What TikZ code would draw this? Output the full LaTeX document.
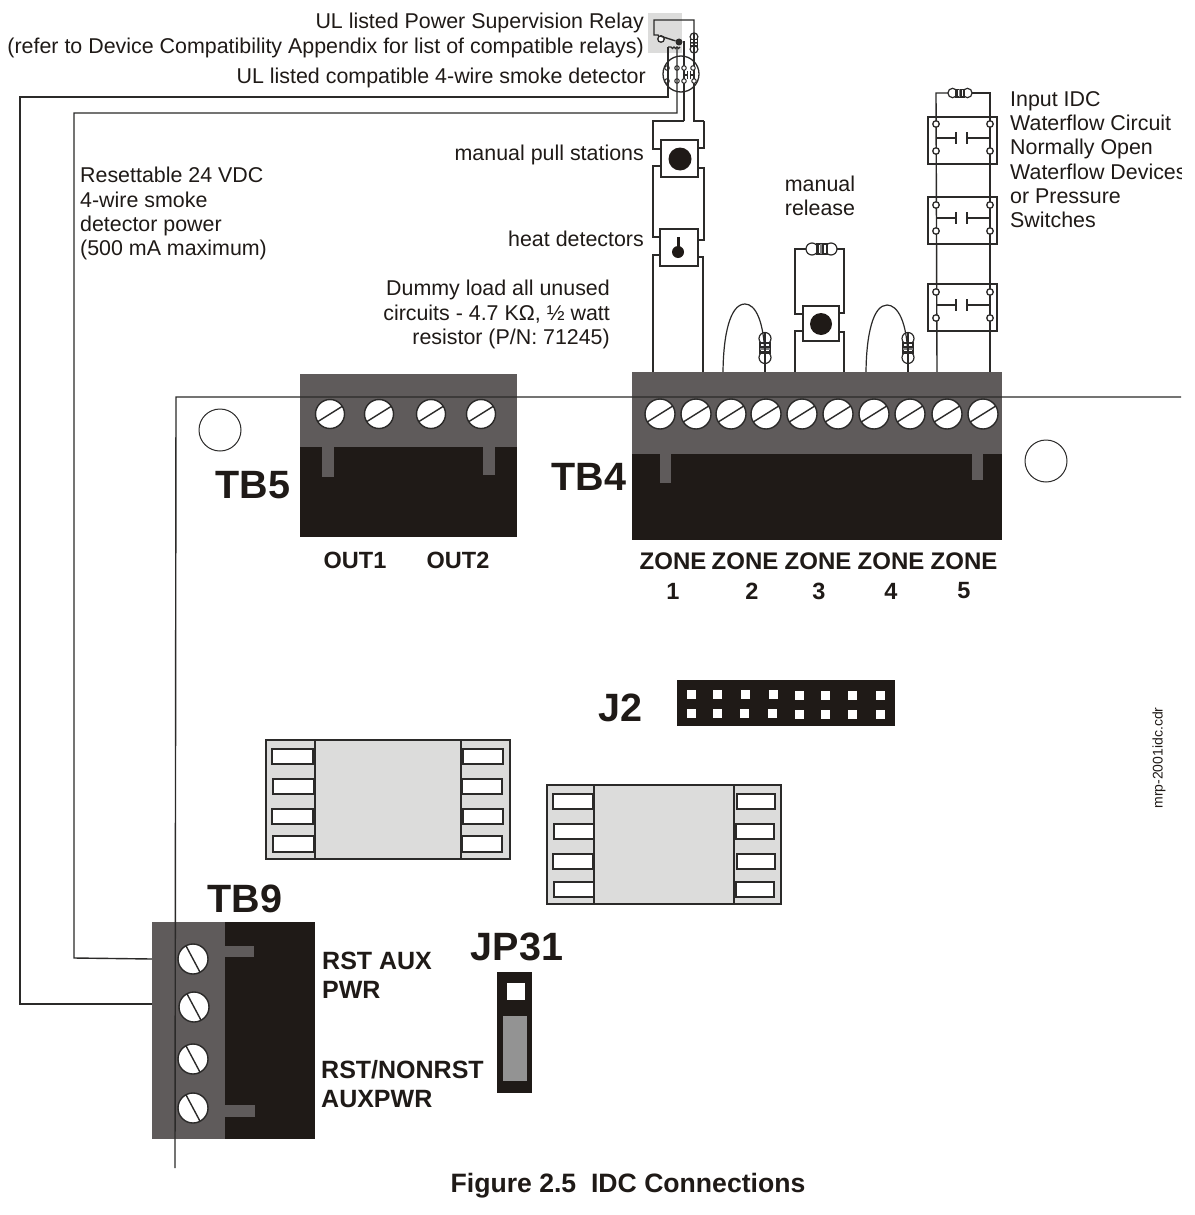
\documentclass[tikz,border=0pt]{standalone}
\usepackage{fontspec}
\setmainfont{Liberation Sans}
\definecolor{ink}{HTML}{2B2A29}
\definecolor{blockgrey}{HTML}{5F5B5B}
\definecolor{blockblack}{HTML}{1F1A17}
\definecolor{chipgrey}{HTML}{DCDCDB}
\tikzset{
  wire/.style={draw=ink,line width=1.4pt},
  label/.style={font=\fontsize{21.4}{24.3}\selectfont,text=blockblack,inner sep=0pt},
  tag/.style={font=\fontsize{25}{29}\selectfont\bfseries,text=blockblack,inner sep=0pt},
  zonetag/.style={font=\fontsize{24}{29}\selectfont\bfseries,text=blockblack,inner sep=0pt},
  outtag/.style={font=\fontsize{23.5}{28}\selectfont\bfseries,text=blockblack,inner sep=0pt},
  bigtag/.style={font=\fontsize{39.5}{44}\selectfont\bfseries,text=blockblack,inner sep=0pt},
  screw/.style={circle,draw=ink,fill=white,line width=1.4pt,minimum size=30pt,inner sep=0pt},
  screwright/.style={screw,path picture={\draw[ink,line width=1.4pt] (path picture bounding box.212) -- (path picture bounding box.32);}},
  screwdown/.style={screw,path picture={\draw[ink,line width=1.4pt] (path picture bounding box.118) -- (path picture bounding box.298);}},
  term/.style={circle,draw=ink,fill=white,line width=1.3pt,minimum size=6.5pt,inner sep=0pt},
  pin/.style={circle,draw=ink,fill=white,line width=1pt,minimum size=4.5pt,inner sep=0pt},
  devbox/.style={draw=ink,fill=white,line width=1.4pt,inner sep=0pt},
  swbox/.style={draw=ink,line width=1.4pt,inner sep=0pt,minimum width=69pt,minimum height=47pt},
  hole/.style={circle,draw=ink,fill=white,line width=1pt,minimum size=42pt,inner sep=0pt},
  pad/.style={draw=ink,fill=white,line width=1.3pt},
  sq/.style={fill=white,minimum size=9pt,inner sep=0pt},
  resistor/.pic={
    \draw[ink,line width=1.2pt,fill=white] (-9.5,0) circle (6);
    \draw[ink,line width=1.2pt,fill=white] (9.5,0) circle (6);
    \fill[white] (-6,-5) rectangle (6,5);
    \draw[ink,line width=1.2pt] (-6,-5) -- (6,-5) (-6,5) -- (6,5);
    \fill[ink] (-6,-5) rectangle (-3,5);
    \fill[gray] (-1.5,-5) rectangle (0,5);
    \fill[ink] (0,-5) rectangle (2,5);
    \fill[ink] (4,-5) rectangle (6,5);
    \coordinate (-a) at (-15.5,0);
    \coordinate (-b) at (15.5,0);
  },
}
\begin{document}
\begin{tikzpicture}[x=1pt,y=-1pt]
    \path[use as bounding box,fill=white] (0,0) rectangle (1194,1215);
    \clip (0,0) rectangle (1181,1215);

    %Relay and smoke detector
    \fill[chipgrey] (648,13) rectangle (682,53);
    \node[circle,draw=ink,line width=1.3pt,minimum size=36pt,inner sep=0pt] (det) at (681,74) {};
    \pic[rotate=90,scale=.65] (rr) at (694,43) {resistor};
    \node[term] (relayno) at (661,39) {};
    \node[circle,fill=ink,minimum size=7pt,inner sep=0pt] (relayc) at (679,42) {};
    \draw[wire] (rr-a) -- (694,20) -- (654,20) -- (654,35) -- (658,35) -- (relayno);
    \draw[wire] (660,36) -- (relayc);
    \draw[wire] (668,47) -- (671,47) arc (180:0:1.5) arc (180:0:1.5) arc (180:0:1.5);
    \coordinate (pta) at (684,121);
    \coordinate (ptb) at (704,121);
    \draw[wire] (relayc) -- (684,42) -- (pta);
    \draw[wire] (rr-b) -- (694,121) -- (ptb);
    \node[pin] (d1) at (667,68) {};
    \node[pin] (d2) at (677,68) {};
    \node[pin] (d3) at (684,68) {};
    \node[pin] (d4) at (693,68) {};
    \node[pin] (d5) at (667,81) {};
    \node[pin] (d6) at (677,81) {};
    \node[pin] (d7) at (684,81) {};
    \node[pin] (d8) at (694,81) {};
    \draw[ink,line width=1pt] (d3 |- 0,75) -- (687,75);
    \draw[ink,line width=1pt] (687,71) -- (687,79);
    \draw[ink,line width=1pt] (690,71) -- (690,79);
    \draw[ink,line width=1pt] (690,75) -- (d4 |- 0,75);

    %Manual pull station and heat detector
    \node[devbox,minimum width=37pt,minimum height=37pt] (pull) at (679.5,158.5) {};
    \node[circle,fill=blockblack,minimum size=23pt,inner sep=0pt] (pulldot) at (680,159) {};
    \node[devbox,minimum width=38pt,minimum height=37pt] (heat) at (679,247.5) {};
    \node[circle,fill=blockblack,minimum size=12pt,inner sep=0pt] (heatdot) at (678,252) {};
    \fill[blockblack] (676.5,237) rectangle (679.5,250);
    \draw[wire] (pta) -- (653,121) -- (653,149) -- (pull.west |- 0,149);
    \draw[wire] (ptb) -- (704,148) -- (pull.east |- 0,148);
    \draw[wire] (pull.west |- 0,166) -- (653,166) -- (653,237) -- (heat.west |- 0,237);
    \draw[wire] (pull.east |- 0,168) -- (704,168) -- (704,240) -- (heat.east |- 0,240);
    \draw[wire] (heat.west |- 0,255) -- (653,255) -- (653,373);
    \draw[wire] (heat.east |- 0,257) -- (703,257) -- (703,375);

    %Zone 2 and zone 4 loops
    \pic[rotate=90] (ra) at (765,348) {resistor};
    \pic[rotate=90] (rb) at (908,348) {resistor};
    \draw[ink,line width=1.2pt] (723,375) .. controls (723,335) and (730,304) .. (745,304) .. controls (755,304) and (765,320) .. (ra-a);
    \draw[ink,line width=1.2pt] (866,375) .. controls (866,335) and (873,305) .. (887,305) .. controls (897,305) and (908,320) .. (rb-a);
    \draw[wire] (ra-b) -- (765,376);
    \draw[wire] (rb-b) -- (908,376);

    %Manual release
    \pic (rm) at (821.5,249) {resistor};
    \node[devbox,minimum width=36pt,minimum height=35pt] (rel) at (821,323.5) {};
    \node[circle,fill=blockblack,minimum size=22pt,inner sep=0pt] (reldot) at (821,324) {};
    \draw[wire] (rm-a) -- (795,249) -- (795,314) -- (rel.west |- 0,314);
    \draw[wire] (rm-b) -- (844,249) -- (844,313) -- (rel.east |- 0,313);
    \draw[wire] (rel.west |- 0,331) -- (795,331) -- (795,373);
    \draw[wire] (rel.east |- 0,332) -- (844,332) -- (844,375);

    %Waterflow switches
    \node[swbox] (swa) at (962.5,140.5) {};
    \node[swbox] (swb) at (962.5,220.5) {};
    \node[swbox] (swc) at (962.5,307.5) {};
    \pic[scale=.78] (rw) at (960,93) {resistor};
    \draw[wire] (rw-a) -- (936,93) -- (937,373);
    \draw[wire] (rw-b) -- (990,93) -- (990,373);
    \node[term] (a1) at (936,124) {};
    \node[term] (a2) at (936,151) {};
    \node[term] (a3) at (990,124) {};
    \node[term] (a4) at (990,151) {};
    \node[term] (b1) at (936,205) {};
    \node[term] (b2) at (936,231) {};
    \node[term] (b3) at (990,205) {};
    \node[term] (b4) at (990,231) {};
    \node[term] (c1) at (936,292) {};
    \node[term] (c2) at (936,318) {};
    \node[term] (c3) at (990,292) {};
    \node[term] (c4) at (990,318) {};
    \draw[wire] (936,138) -- (956,138) (956,132) -- (956,144) (967,132) -- (967,144) (967,138) -- (990,138);
    \draw[wire] (936,218) -- (956,218) (956,212) -- (956,224) (967,212) -- (967,224) (967,218) -- (990,218);
    \draw[wire] (936,305) -- (956,305) (956,299) -- (956,311) (967,299) -- (967,311) (967,305) -- (990,305);

    %Long wires to TB9
    \draw[wire] (668,47) -- (668,97) -- (20,97) -- (20,1004) -- (152,1004);
    \draw[wire] (677,47) -- (677,113) -- (74,113) -- (74,958) -- (152,959);

    %TB5
    \fill[blockblack] (300,447) rectangle (517,537);
    \fill[blockgrey] (300,374) rectangle (517,447);
    \fill[blockgrey] (322,447) rectangle (334,477);
    \fill[blockgrey] (483,447) rectangle (495,475);
    \node[screwright,minimum size=29pt] (s51) at (330,414) {};
    \node[screwright,minimum size=29pt] (s52) at (379,414) {};
    \node[screwright,minimum size=29pt] (s53) at (431,414) {};
    \node[screwright,minimum size=29pt] (s54) at (481,414) {};

    %TB4
    \fill[blockblack] (632,454) rectangle (1002,540);
    \fill[blockgrey] (632,372) rectangle (1002,454);
    \fill[blockgrey] (660,454) rectangle (671,483);
    \fill[blockgrey] (972,454) rectangle (983,480);
    \node[screwright] (s41) at (660,414) {};
    \node[screwright] (s42) at (696,414) {};
    \node[screwright] (s43) at (731,414) {};
    \node[screwright] (s44) at (766,414) {};
    \node[screwright] (s45) at (802,414) {};
    \node[screwright] (s46) at (838,414) {};
    \node[screwright] (s47) at (874,414) {};
    \node[screwright] (s48) at (910,414) {};
    \node[screwright] (s49) at (947,414) {};
    \node[screwright] (s410) at (983,414) {};

    %TB9
    \fill[blockblack] (152,922) rectangle (315,1139);
    \fill[blockgrey] (152,922) rectangle (225,1139);
    \fill[blockgrey] (225,946) rectangle (254,957);
    \fill[blockgrey] (225,1105) rectangle (255,1117);
    \node[screwdown] (s91) at (193,959) {};
    \node[screwdown] (s92) at (194,1007) {};
    \node[screwdown] (s93) at (193,1059) {};
    \node[screwdown] (s94) at (193,1108) {};

    %Board edge and holes
    \draw[wire] (1181,397) -- (176,397) -- (175,1168);
    \node[hole] (h1) at (220,430) {};
    \node[hole] (h2) at (1046,461) {};

    %Chips
    \draw[ink,line width=1.3pt,fill=chipgrey] (266,740) rectangle (510,859);
    \draw[ink,line width=1.3pt,fill=chipgrey] (315,740) rectangle (461,859);
    \draw[pad] (272,749) rectangle (313,764);
    \draw[pad] (273,779) rectangle (314,794);
    \draw[pad] (272,809) rectangle (313,824);
    \draw[pad] (273,836) rectangle (314,852);
    \draw[pad] (463,749) rectangle (503,764);
    \draw[pad] (462,779) rectangle (502,794);
    \draw[pad] (463,809) rectangle (503,824);
    \draw[pad] (462,836) rectangle (502,852);
    \draw[ink,line width=1.3pt,fill=chipgrey] (547,785) rectangle (781,904);
    \draw[ink,line width=1.3pt,fill=chipgrey] (594,785) rectangle (734,904);
    \draw[pad] (553,794) rectangle (593,809);
    \draw[pad] (554,824) rectangle (594,839);
    \draw[pad] (553,854) rectangle (593,869);
    \draw[pad] (554,882) rectangle (594,897);
    \draw[pad] (737,794) rectangle (775,809);
    \draw[pad] (736,824) rectangle (774,839);
    \draw[pad] (737,854) rectangle (775,869);
    \draw[pad] (736,882) rectangle (774,897);

    %J2
    \fill[blockblack] (677,680) rectangle (895,726);
    \node[sq] (j1) at (691,694) {};
    \node[sq] (j2) at (717,694) {};
    \node[sq] (j3) at (745,694) {};
    \node[sq] (j4) at (773,694) {};
    \node[sq] (j5) at (799,695) {};
    \node[sq] (j6) at (825,695) {};
    \node[sq] (j7) at (852,695) {};
    \node[sq] (j8) at (880,695) {};
    \node[sq] (j9) at (691,713) {};
    \node[sq] (j10) at (717,713) {};
    \node[sq] (j11) at (744,713) {};
    \node[sq] (j12) at (772,713) {};
    \node[sq] (j13) at (799,714) {};
    \node[sq] (j14) at (825,714) {};
    \node[sq] (j15) at (852,714) {};
    \node[sq] (j16) at (880,714) {};

    %JP31
    \fill[blockblack] (497,972) rectangle (532,1093);
    \fill[white] (507,983) rectangle (525,1000);
    \fill[gray!85] (503,1016) rectangle (527,1081);

    %Labels
    \node[label,align=right,anchor=north east] (relaytxt) at (644,13) {UL listed Power Supervision Relay\\(refer to Device Compatibility Appendix for list of compatible relays)};
    \node[label,anchor=east] (dettxt) at (646,78) {UL listed compatible 4-wire smoke detector};
    \node[label,align=left,anchor=north west] (powertxt) at (80,167) {Resettable 24 VDC\\4-wire smoke\\detector power\\(500 mA maximum)};
    \node[label,anchor=east] (pulltxt) at (644,155) {manual pull stations};
    \node[label,anchor=east] (heattxt) at (644,239) {heat detectors};
    \node[label,align=center] (reltxt) at (820,196) {manual\\release};
    \node[label,align=right,anchor=north east] (dummytxt) at (610,280) {Dummy load all unused\\circuits - 4.7 KΩ, ½ watt\\resistor (P/N: 71245)};
    \node[label,align=left,anchor=north west] (flowtxt) at (1010,91) {Input IDC\\Waterflow Circuit\\Normally Open\\Waterflow Devices\\or Pressure\\Switches};
    \node[bigtag] (tb5) at (253,485) {TB5};
    \node[bigtag] (tb4) at (589,477) {TB4};
    \node[bigtag] (tb9) at (245,899) {TB9};
    \node[bigtag] (j2txt) at (620,708) {J2};
    \node[bigtag] (jp31) at (517,947) {JP31};
    \node[outtag] (out1) at (355,560) {OUT1};
    \node[outtag] (out2) at (458,560) {OUT2};
    \node[zonetag] (z1) at (673,561) {ZONE};
    \node[zonetag] (z2) at (745,561) {ZONE};
    \node[zonetag] (z3) at (818,561) {ZONE};
    \node[zonetag] (z4) at (891,561) {ZONE};
    \node[zonetag] (z5) at (964,561) {ZONE};
    \node[outtag] (n1) at (673,591) {1};
    \node[outtag] (n2) at (752,591) {2};
    \node[outtag] (n3) at (819,591) {3};
    \node[outtag] (n4) at (891,591) {4};
    \node[outtag] (n5) at (964,591) {5};
    \node[tag,align=left,anchor=north west] (rsttxt) at (322,952) {RST AUX\\PWR};
    \node[tag,align=left,anchor=north west] (nontxt) at (321,1060) {RST/NONRST\\AUXPWR};
    \node[tag,font=\fontsize{26.6}{30}\selectfont\bfseries] (fig) at (628,1186) {Figure 2.5\ \ IDC Connections};
    \node[label,font=\fontsize{14}{16}\selectfont,rotate=90] (cdr) at (1159,758) {mrp-2001idc.cdr};
\end{tikzpicture}
\end{document}
